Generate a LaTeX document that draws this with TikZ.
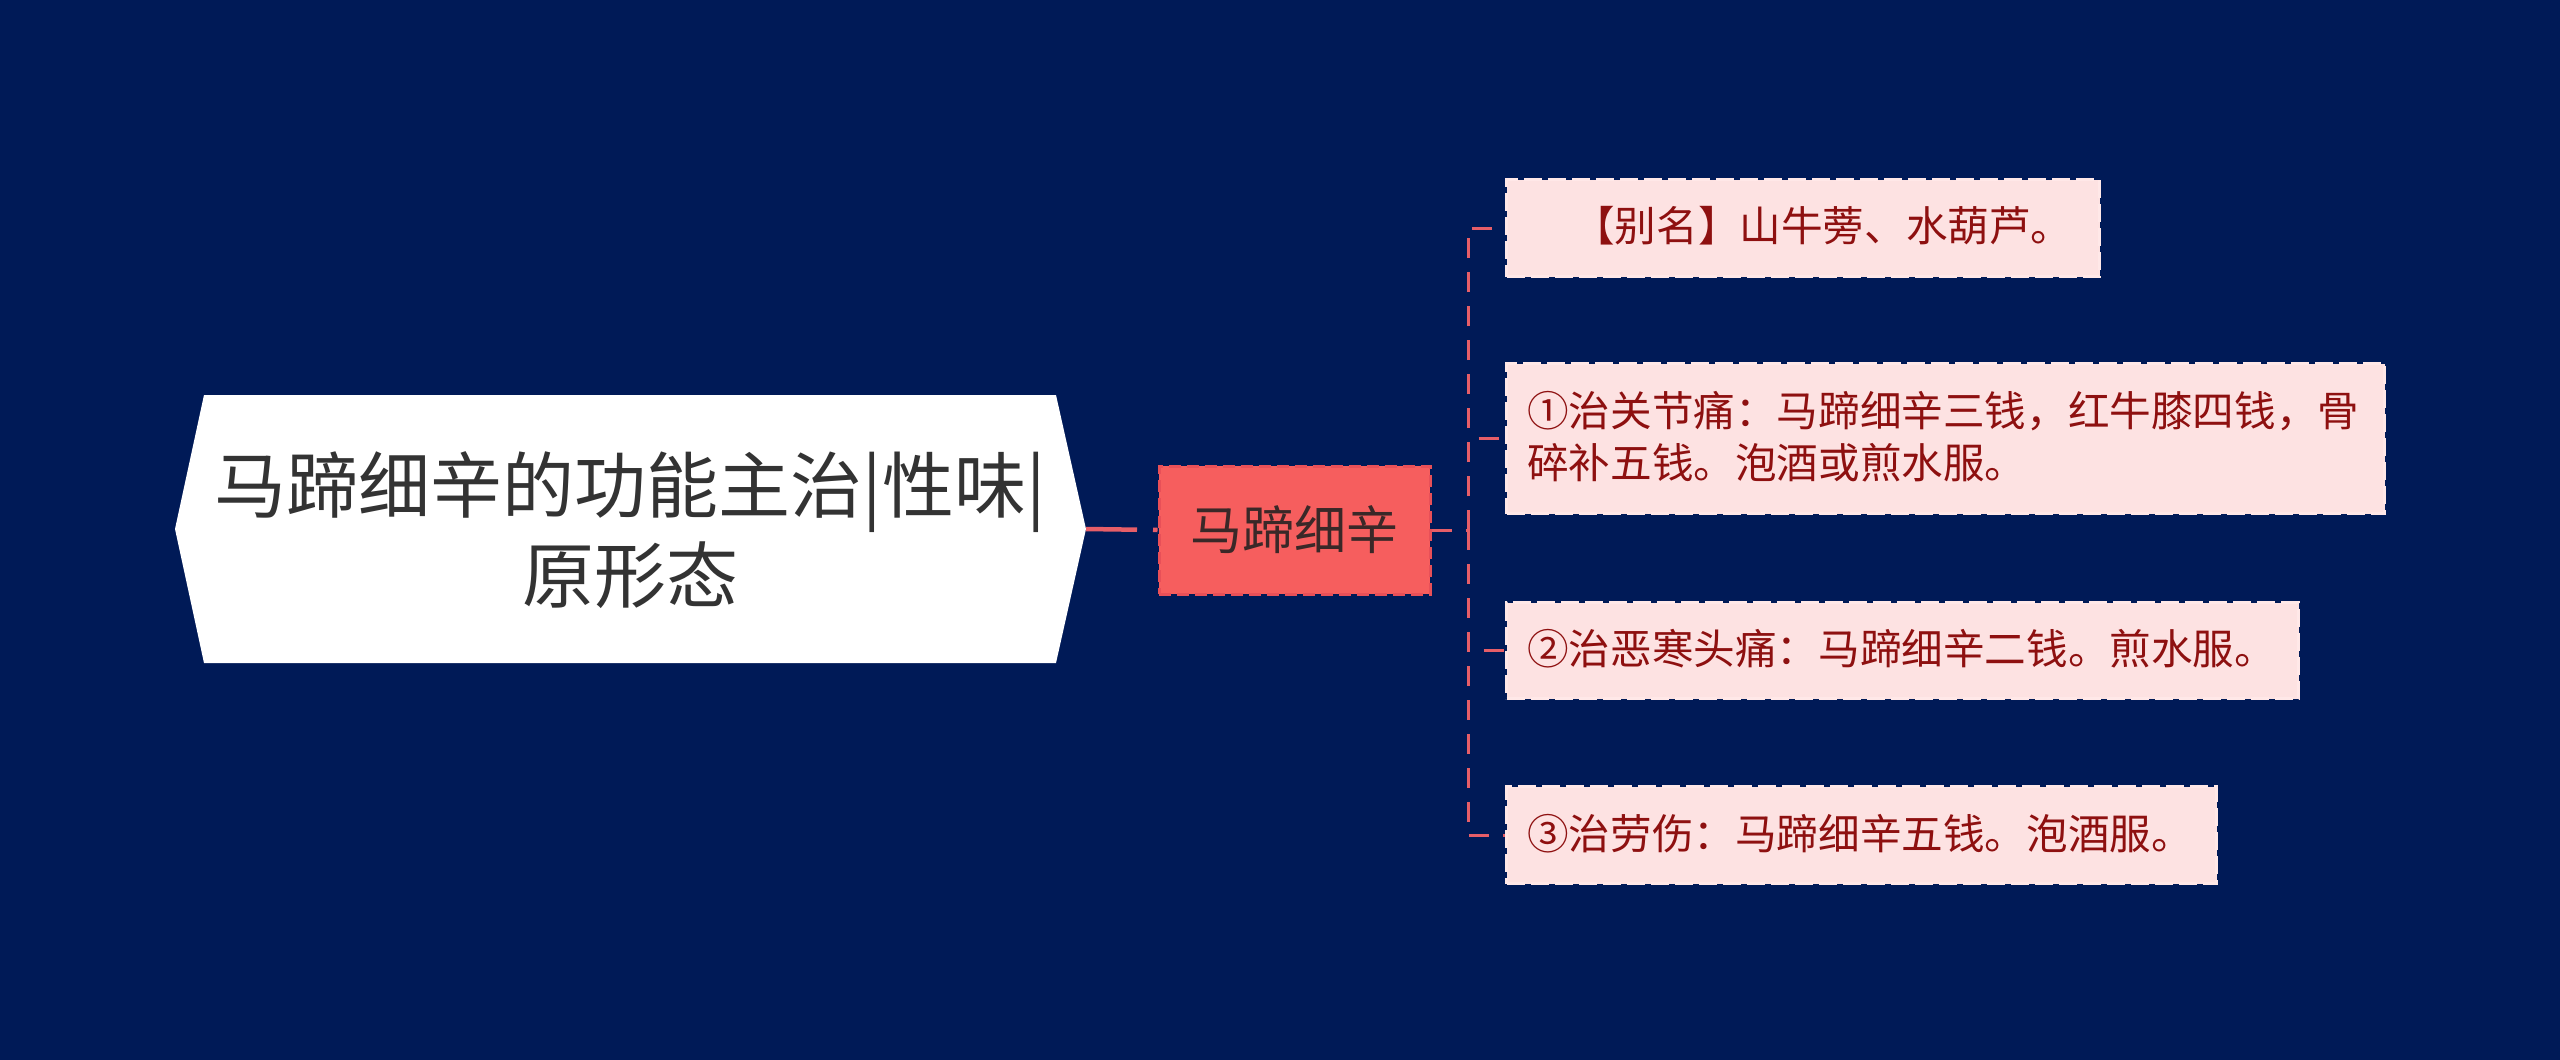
\documentclass[tikz,border=0pt]{standalone}
\usepackage{fontspec}
\setmainfont{Noto Sans CJK SC}
\newfontfamily\cjk{Noto Sans CJK SC}
\definecolor{bgnavy}{HTML}{001A57}
\definecolor{rootfill}{HTML}{FFFFFF}
\definecolor{roottext}{HTML}{333333}
\definecolor{mainfill}{HTML}{F65E5E}
\definecolor{mainborder}{HTML}{E85058}
\definecolor{maintext}{HTML}{3A2828}
\definecolor{leaffill}{HTML}{FDE2E2}
\definecolor{leafborder}{HTML}{FFE8E8}
\definecolor{leaftext}{HTML}{8E1010}
\definecolor{linkred}{HTML}{E65E68}
\tikzset{
  leafbox/.style={draw=leafborder, fill=leaffill, line width=3pt, dash pattern=on 18pt off 6pt, anchor=north west, inner sep=0pt},
  leaflabel/.style={text=leaftext, font=\cjk\fontsize{41.6pt}{52pt}\selectfont, anchor=west, align=left, inner sep=0pt},
  branchlink/.style={draw=linkred, line width=3pt, dash pattern=on 20pt off 14pt},
}
\begin{document}
\begin{tikzpicture}[x=1pt,y=-1pt]
\useasboundingbox[fill=bgnavy] (0,0) rectangle (2560,1060);
% root hexagon
\fill[rootfill] (175,529) -- (204,395) -- (1056,395) -- (1086,529) -- (1056,663) -- (204,663) -- cycle;
\node[text=roottext, font=\cjk\fontsize{72pt}{90pt}\selectfont, align=center, inner sep=0pt] (roottxt) at (630,530) {马蹄细辛的功能主治|性味|\\原形态};
\coordinate (rootE) at (1086,529);
% main node
\node[draw=mainborder, fill=mainfill, line width=3pt, dash pattern=on 12pt off 6pt, minimum width=271pt, minimum height=128pt, inner sep=0pt, text=maintext, font=\cjk\fontsize{52pt}{60pt}\selectfont] (main) at (1294.5,530) {马蹄细辛};
\draw[draw=linkred, line width=4.5pt, dash pattern=on 51pt off 16pt] (rootE) -- (main.west);
% leaf boxes
\node[leafbox, minimum width=593pt, minimum height=97pt] (b1) at (1505,178) {};
\node[leafbox, minimum width=878pt, minimum height=150pt] (b2) at (1505,362) {};
\node[leafbox, minimum width=792pt, minimum height=96pt] (b3) at (1505,601) {};
\node[leafbox, minimum width=710pt, minimum height=97pt] (b4) at (1505,785) {};
\node[leaflabel] (t1) at (1573,226) {【别名】山牛蒡、水葫芦。};
\node[leaflabel] (t2) at (1527,437) {①治关节痛：马蹄细辛三钱，红牛膝四钱，骨\\碎补五钱。泡酒或煎水服。};
\node[leaflabel] (t3) at (1527,649) {②治恶寒头痛：马蹄细辛二钱。煎水服。};
\node[leaflabel] (t4) at (1527,834) {③治劳伤：马蹄细辛五钱。泡酒服。};
% branches
\coordinate (trunk) at (1468,530);
\draw[branchlink] (main.east) -- (trunk);
\draw[branchlink] (trunk) |- (b1.west);
\draw[branchlink] (trunk) |- (b2.west);
\draw[branchlink] (trunk) |- (b3.west);
\draw[branchlink] (trunk) |- (b4.west);
\end{tikzpicture}
\end{document}
